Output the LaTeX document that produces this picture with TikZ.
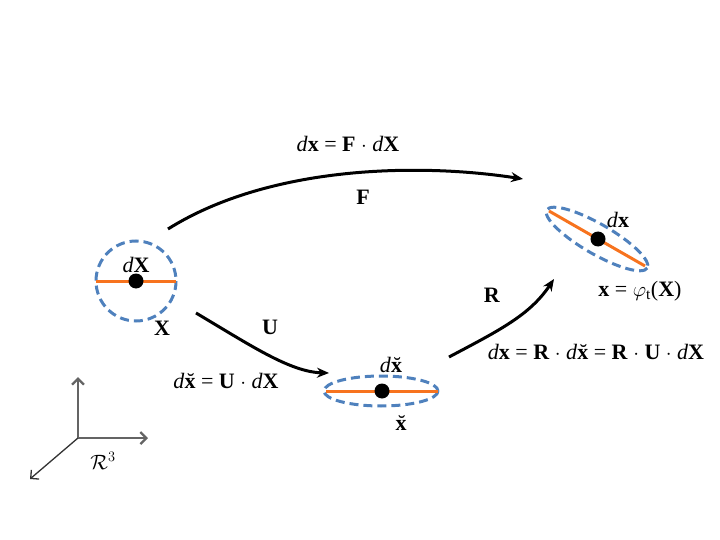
\documentclass[tikz,border=0pt]{standalone}
\usepackage{fontspec}
\setmainfont{Liberation Serif}
\usetikzlibrary{arrows.meta}
\definecolor{dashblue}{RGB}{79,129,189}
\definecolor{lineorange}{RGB}{247,115,30}
\definecolor{axisgray}{RGB}{100,100,100}
\newcommand{\vx}{\textbf{x}}
\newcommand{\vX}{\textbf{X}}
\newcommand{\vbx}{\ooalign{\textbf{x}\cr\hidewidth\kern0.06em\raisebox{-0.02em}{\char"02D8}\hidewidth\cr}}
\begin{document}
\begin{tikzpicture}[x=1pt,y=-1pt,
  every node/.style={font=\fontsize{22}{24}\selectfont, inner sep=0pt},
  blob/.style={draw=dashblue, line width=3pt, dash pattern=on 9pt off 5pt},
  seg/.style={draw=lineorange, line width=3pt},
  dot/.style={fill=black, circle, minimum size=15pt, inner sep=0pt},
  map/.style={draw=black, line width=3pt, -{Stealth[length=12pt,width=10pt]}},
  axis/.style={draw=axisgray, line width=2.3pt, -{Straight Barb[length=6pt,width=12pt]}},
  lbl/.style={anchor=center}]
\useasboundingbox (0,0) rectangle (720,540);

% left (reference) element
\draw[blob] (136,281) circle (40);
\coordinate (la) at (96,281);
\coordinate (lb) at (176,281);
\draw[seg] (la) -- (lb);
\node[dot] (p0) at (136,281) {};
\node[lbl] (dX) at (136,265) {\textit{d}\vX};
\node[lbl] (X) at (162,328) {\vX};

% middle element
\draw[blob] (381,391) ellipse (57 and 15);
\coordinate (ma) at (326,391);
\coordinate (mb) at (438,391);
\draw[seg] (ma) -- (mb);
\node[dot] (p1) at (382,391) {};
\node[lbl, anchor=base] (dbx) at (391,372) {\textit{d}\vbx};
\node[lbl, anchor=base] (bx) at (401,430) {\vbx};

% right element
\draw[blob, rotate around={-30:(597,239)}] (597,239) ellipse (58 and 15);
\coordinate (ra) at (549,211);
\coordinate (rb) at (645,266);
\draw[seg] (ra) -- (rb);
\node[dot] (p2) at (598,239) {};
\node[lbl] (dx) at (618,220) {\textit{d}\vx};
\node[lbl] (phi) at (640,291) {\vx\ = $\varphi_{\mathrm{t}}$(\vX)};

% mappings
\coordinate (F0) at (168,229);
\coordinate (F1) at (523,179);
\draw[map] (F0) .. controls (270,165) and (420,163) .. (F1);
\node[lbl] (Feq) at (348,144) {\textit{d}\vx\ = \textbf{F} $\cdot$ \textit{d}\vX};
\node[lbl] (F) at (363,197) {\textbf{F}};

\coordinate (U0) at (196,313);
\coordinate (U1) at (329,373);
\draw[map] (U0) .. controls (250,345) and (290,372) .. (U1);
\node[lbl] (U) at (270,327) {\textbf{U}};
\node[lbl, anchor=base] (Ueq) at (226,388) {\textit{d}\vbx\ = \textbf{U} $\cdot$ \textit{d}\vX};

\coordinate (R0) at (449,357);
\coordinate (R1) at (554,279);
\draw[map] (R0) .. controls (500,330) and (530,315) .. (R1);
\node[lbl] (R) at (492,295) {\textbf{R}};
\node[lbl, anchor=base] (Req) at (596,359) {\textit{d}\vx\ = \textbf{R} $\cdot$ \textit{d}\vbx\ = \textbf{R} $\cdot$ \textbf{U} $\cdot$ \textit{d}\vX};

% axes
\coordinate (o) at (78,438);
\coordinate (az) at (78,377);
\coordinate (ay) at (148,438);
\coordinate (ax) at (30,479);
\draw[axis] (o) -- (az);
\draw[axis] (o) -- (ay);
\draw[axis, line width=1.3pt, draw=black!80] (o) -- (ax);
\node[lbl] (R3) at (103,461) {$\mathcal{R}^{\scriptstyle 3}$};
\end{tikzpicture}
\end{document}
